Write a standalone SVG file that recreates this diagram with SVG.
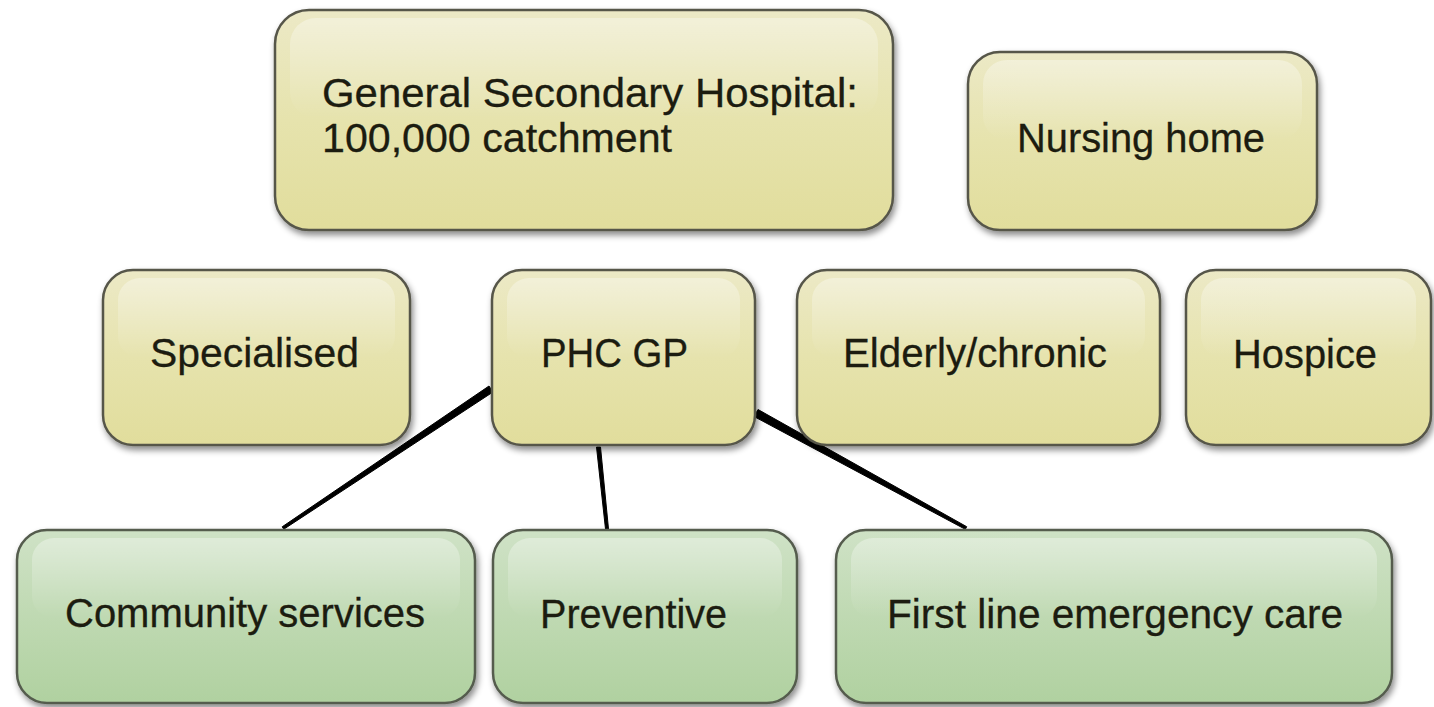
<svg xmlns="http://www.w3.org/2000/svg" width="1434" height="707" viewBox="0 0 1434 707">
  <defs>
    <linearGradient id="gY" x1="0" y1="0" x2="0" y2="1">
      <stop offset="0" stop-color="#ece9c6"/>
      <stop offset="0.5" stop-color="#e6e3ad"/>
      <stop offset="1" stop-color="#e1dd9c"/>
    </linearGradient>
    <linearGradient id="gG" x1="0" y1="0" x2="0" y2="1">
      <stop offset="0" stop-color="#cfe2c6"/>
      <stop offset="0.5" stop-color="#bfd9b2"/>
      <stop offset="1" stop-color="#b0d1a0"/>
    </linearGradient>
    <linearGradient id="gH" x1="0" y1="0" x2="0" y2="1">
      <stop offset="0" stop-color="#ffffff" stop-opacity="0.35"/>
      <stop offset="1" stop-color="#ffffff" stop-opacity="0"/>
    </linearGradient>
    <filter id="sh" x="-10%" y="-10%" width="120%" height="130%">
      <feDropShadow dx="2" dy="4" stdDeviation="3" flood-color="#000" flood-opacity="0.45"/>
    </filter>
  </defs>
  <style>
    .y { fill: url(#gY); stroke: #57564a; stroke-width: 2.5; filter: url(#sh); }
    .g { fill: url(#gG); stroke: #545c4e; stroke-width: 2.5; filter: url(#sh); }
    .h { fill: url(#gH); stroke: none; }
    .t { font-family: "Liberation Sans", Arial, sans-serif; font-size: 40px; fill: #1c1c10; stroke: #1c1c10; stroke-width: 0.3; }
    .c { fill: #000; stroke: #000; stroke-width: 1; stroke-linejoin: round; }
  </style>
  <rect width="1434" height="707" fill="#ffffff"/>

  <g id="connectors">
    <polygon class="c" points="489,386 493,392 283.8,529.2 282.2,526.8"/>
    <polygon class="c" points="596.5,447 600.5,447 608.5,529 605.5,529"/>
    <polygon class="c" points="758,409.5 754,416.5 965.3,529.3 966.7,526.7"/>
  </g>

  <g id="hospital">
    <rect class="y" x="275" y="10" width="618" height="220" rx="34"/>
    <rect class="h" x="290" y="18" width="588" height="100" rx="26"/>
    <text class="t" x="322" y="107" textLength="536" lengthAdjust="spacingAndGlyphs">General Secondary Hospital:</text>
    <text class="t" x="322" y="152" textLength="350" lengthAdjust="spacingAndGlyphs">100,000 catchment</text>
  </g>

  <g id="nursing-home">
    <rect class="y" x="968" y="52" width="349" height="178" rx="32"/>
    <rect class="h" x="983" y="60" width="319" height="80" rx="24"/>
    <text class="t" x="1017" y="152" textLength="248" lengthAdjust="spacingAndGlyphs">Nursing home</text>
  </g>

  <g id="specialised">
    <rect class="y" x="103" y="270" width="307" height="175" rx="30"/>
    <rect class="h" x="118" y="278" width="277" height="80" rx="22"/>
    <text class="t" x="150" y="367" textLength="209" lengthAdjust="spacingAndGlyphs">Specialised</text>
  </g>

  <g id="phc-gp">
    <rect class="y" x="492" y="270" width="263" height="175" rx="30"/>
    <rect class="h" x="507" y="278" width="233" height="80" rx="22"/>
    <text class="t" x="541" y="367" textLength="147" lengthAdjust="spacingAndGlyphs">PHC GP</text>
  </g>

  <g id="elderly-chronic">
    <rect class="y" x="797" y="270" width="363" height="175" rx="30"/>
    <rect class="h" x="812" y="278" width="333" height="80" rx="22"/>
    <text class="t" x="843" y="367" textLength="264" lengthAdjust="spacingAndGlyphs">Elderly/chronic</text>
  </g>

  <g id="hospice">
    <rect class="y" x="1186" y="270" width="245" height="175" rx="30"/>
    <rect class="h" x="1201" y="278" width="215" height="80" rx="22"/>
    <text class="t" x="1233" y="368" textLength="144" lengthAdjust="spacingAndGlyphs">Hospice</text>
  </g>

  <g id="community-services">
    <rect class="g" x="17" y="530" width="458" height="173" rx="30"/>
    <rect class="h" x="32" y="538" width="428" height="80" rx="22"/>
    <text class="t" x="65" y="627" textLength="360" lengthAdjust="spacingAndGlyphs">Community services</text>
  </g>

  <g id="preventive">
    <rect class="g" x="493" y="530" width="304" height="173" rx="30"/>
    <rect class="h" x="508" y="538" width="274" height="80" rx="22"/>
    <text class="t" x="540" y="628" textLength="187" lengthAdjust="spacingAndGlyphs">Preventive</text>
  </g>

  <g id="first-line">
    <rect class="g" x="836" y="530" width="556" height="173" rx="30"/>
    <rect class="h" x="851" y="538" width="526" height="80" rx="22"/>
    <text class="t" x="887" y="628" textLength="456" lengthAdjust="spacingAndGlyphs">First line emergency care</text>
  </g>
</svg>
